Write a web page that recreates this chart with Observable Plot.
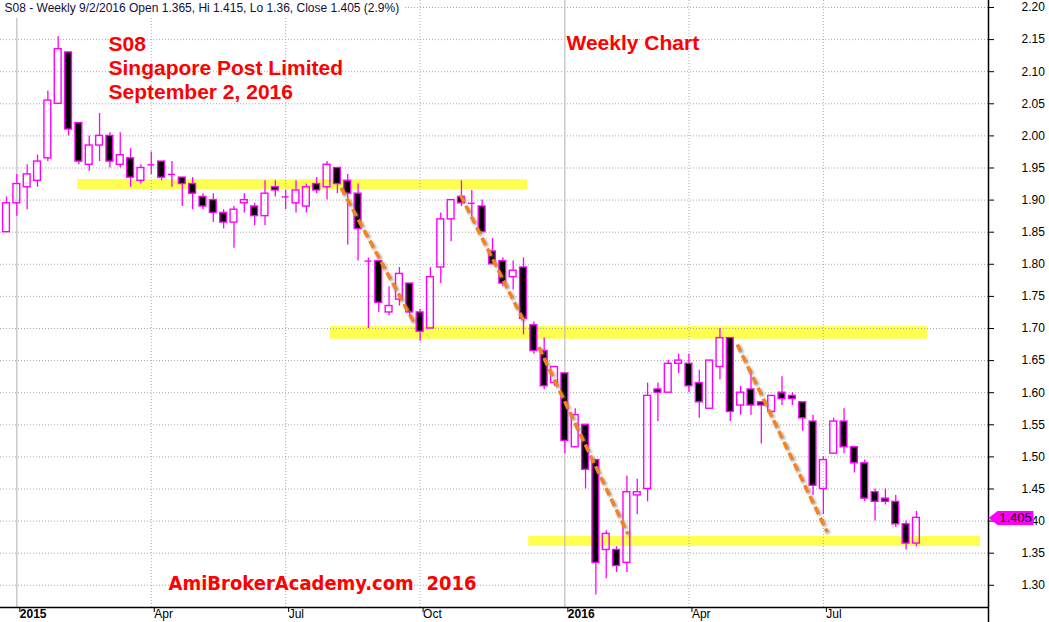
<!DOCTYPE html>
<html>
<head>
<meta charset="utf-8">
<script src="https://cdn.jsdelivr.net/npm/d3@7"></script>
<script src="https://cdn.jsdelivr.net/npm/@observablehq/plot@0.6"></script>
<style>
  html, body { margin: 0; padding: 0; background: #fff; }
  #chart { width: 1049px; height: 622px; overflow: hidden; }
</style>
</head>
<body>
<div id="chart"></div>
<script>
// S08 Singapore Post Limited — weekly OHLC, week ending Fridays from 26 Dec 2014
const firstWeek = Date.UTC(2014, 11, 26);

const open = [
  1.85, 1.895, 1.92, 1.93, 1.965, 2.05, 2.13, 2.02, 1.955, 1.985,
  2.00, 1.955, 1.965, 1.93, 1.955, 1.96, 1.94, 1.935, 1.925, 1.905,
  1.90, 1.88, 1.865, 1.895, 1.89, 1.875, 1.92, 1.905, 1.895, 1.89,
  1.925, 1.92, 1.95, 1.93, 1.91, 1.805, 1.805, 1.725, 1.745, 1.77,
  1.725, 1.70, 1.795, 1.87, 1.905, 1.895, 1.89, 1.82, 1.805, 1.78,
  1.795, 1.705, 1.665, 1.615, 1.63, 1.515, 1.55, 1.495, 1.355, 1.355,
  1.335, 1.44, 1.45, 1.605, 1.60, 1.645, 1.645, 1.615, 1.575, 1.64,
  1.685, 1.58, 1.605, 1.585, 1.57, 1.60, 1.595, 1.585, 1.555, 1.45,
  1.505, 1.555, 1.515, 1.49, 1.445, 1.435, 1.43, 1.395, 1.365
];
const high = [
  1.905, 1.94, 1.955, 1.97, 2.07, 2.155, 2.13, 2.02, 2.00, 2.035,
  2.005, 2.005, 1.98, 1.955, 1.975, 1.96, 1.96, 1.935, 1.935, 1.91,
  1.91, 1.885, 1.89, 1.91, 1.895, 1.93, 1.93, 1.915, 1.93, 1.925,
  1.935, 1.96, 1.95, 1.94, 1.925, 1.81, 1.805, 1.765, 1.795, 1.77,
  1.73, 1.795, 1.88, 1.90, 1.93, 1.915, 1.90, 1.84, 1.81, 1.805,
  1.81, 1.71, 1.685, 1.64, 1.63, 1.575, 1.55, 1.495, 1.385, 1.36,
  1.47, 1.465, 1.615, 1.615, 1.65, 1.66, 1.66, 1.635, 1.65, 1.70,
  1.685, 1.61, 1.635, 1.585, 1.595, 1.625, 1.60, 1.585, 1.565, 1.50,
  1.56, 1.575, 1.515, 1.495, 1.45, 1.45, 1.44, 1.40, 1.415
];
const low = [
  1.85, 1.875, 1.885, 1.92, 1.96, 2.05, 2.00, 1.955, 1.945, 1.96,
  1.95, 1.95, 1.92, 1.925, 1.94, 1.93, 1.92, 1.89, 1.885, 1.885,
  1.865, 1.855, 1.825, 1.88, 1.86, 1.86, 1.905, 1.885, 1.88, 1.88,
  1.91, 1.90, 1.91, 1.83, 1.805, 1.70, 1.725, 1.72, 1.735, 1.72,
  1.68, 1.70, 1.77, 1.835, 1.89, 1.87, 1.85, 1.80, 1.765, 1.76,
  1.69, 1.66, 1.605, 1.61, 1.505, 1.515, 1.45, 1.285, 1.31, 1.32,
  1.32, 1.41, 1.43, 1.555, 1.60, 1.63, 1.60, 1.56, 1.575, 1.62,
  1.555, 1.565, 1.565, 1.52, 1.57, 1.58, 1.58, 1.54, 1.44, 1.41,
  1.505, 1.505, 1.475, 1.43, 1.40, 1.425, 1.39, 1.355, 1.36
];
const close = [
  1.895, 1.925, 1.94, 1.96, 2.055, 2.135, 2.01, 1.96, 1.985, 2.00,
  1.96, 1.97, 1.935, 1.95, 1.955, 1.935, 1.94, 1.925, 1.91, 1.89,
  1.88, 1.865, 1.885, 1.90, 1.875, 1.91, 1.915, 1.905, 1.915, 1.92,
  1.915, 1.955, 1.925, 1.91, 1.855, 1.805, 1.74, 1.735, 1.785, 1.725,
  1.695, 1.78, 1.87, 1.90, 1.895, 1.895, 1.85, 1.80, 1.77, 1.79,
  1.715, 1.665, 1.61, 1.64, 1.525, 1.565, 1.48, 1.335, 1.38, 1.33,
  1.445, 1.445, 1.595, 1.60, 1.645, 1.65, 1.61, 1.585, 1.65, 1.685,
  1.57, 1.60, 1.58, 1.58, 1.595, 1.59, 1.59, 1.56, 1.455, 1.495,
  1.555, 1.515, 1.49, 1.435, 1.43, 1.43, 1.395, 1.365, 1.405
];

// price axis and time axis ticks
const priceTicks = [1.30, 1.35, 1.40, 1.45, 1.50, 1.55, 1.60, 1.65, 1.70, 1.75,
                    1.80, 1.85, 1.90, 1.95, 2.00, 2.05, 2.10, 2.15, 2.20];
const timeTickDates = ["2015-01-02", "2015-04-03", "2015-07-03", "2015-10-02",
                       "2016-01-08", "2016-04-01", "2016-07-01"];
const timeTickLabels = ["2015", "Apr", "Jul", "Oct", "2016", "Apr", "Jul"];

// support / resistance zones (bar number span, price span)
const zoneFromBar = [6.87, 31.3, 50.5];
const zoneToBar = [50.4, 89.1, 94.2];
const zoneLow = [1.9165, 1.6833, 1.3604];
const zoneHigh = [1.932, 1.703, 1.376];

// down-trend lines (bar number, price)
const trendFromBar = [32.37, 43.9, 51.48, 70.67];
const trendFromPrice = [1.919, 1.908, 1.671, 1.675];
const trendToBar = [39.39, 50.0, 60.09, 79.37];
const trendToPrice = [1.71, 1.7125, 1.38, 1.383];

const header = "S08 - Weekly 9/2/2016 Open 1.365, Hi 1.415, Lo 1.36, Close 1.405 (2.9%)";
const titleLines = ["S08", "Singapore Post Limited", "September 2, 2016"];
const chartKind = "Weekly Chart";
const watermark = "AmiBrokerAcademy.com  2016";

// ---- derived tables ----
const WEEK = 7 * 864e5;
const barDate = (i) => new Date(firstWeek + i * WEEK);
const xStart = barDate(-0.58), xEnd = barDate(94.97);
const yDomain = [1.2654, 2.2109];
const half = 0.33; // candle body half-width, in bars
const magenta = "#ff00ff";

const bars = open.map((o, i) => ({
  i, date: barDate(i), o, h: high[i], l: low[i], c: close[i],
  top: Math.max(o, close[i]), bot: Math.min(o, close[i])
}));
const upBars = bars.filter(d => d.c > d.o);
const downBars = bars.filter(d => d.c < d.o);
const dojiBars = bars.filter(d => d.c === d.o);

const zones = zoneFromBar.map((b, k) => ({
  x1: barDate(b), x2: barDate(zoneToBar[k]), y1: zoneLow[k], y2: zoneHigh[k]
}));
const trends = trendFromBar.map((b, k) => ({
  x1: barDate(b), y1: trendFromPrice[k], x2: barDate(trendToBar[k]), y2: trendToPrice[k]
}));
const ticks = timeTickDates.map((s, k) => ({ date: new Date(s), label: timeTickLabels[k] }));
const labelOf = new Map(ticks.map(t => [+t.date, t.label]));
const yearTicks = ticks.filter(t => /^\d{4}$/.test(t.label));
const monthTicks = ticks.filter(t => !/^\d{4}$/.test(t.label));
const last = bars[bars.length - 1];

const tagSymbol = {
  draw(ctx) {
    ctx.moveTo(0, 0);
    ctx.lineTo(9, -7);
    ctx.lineTo(45, -7);
    ctx.lineTo(45, 7);
    ctx.lineTo(9, 7);
    ctx.closePath();
  }
};

const chart = Plot.plot({
  width: 1049,
  height: 622,
  marginLeft: 0,
  marginRight: 61,
  marginTop: 0,
  marginBottom: 15,
  x: { type: "utc", domain: [xStart, xEnd], axis: null },
  y: { domain: yDomain, axis: null },
  style: { fontFamily: "'Liberation Sans', Arial, sans-serif", fontSize: "12px", background: "#fff", color: "#000" },
  marks: [
    // yellow zones
    Plot.rect(zones, { x1: "x1", x2: "x2", y1: "y1", y2: "y2", fill: "#ffff4f" }),
    // grid
    Plot.ruleY(priceTicks, { stroke: "#a9a9a9", strokeDasharray: "1,2" }),
    Plot.ruleX(monthTicks, { x: "date", stroke: "#a9a9a9", strokeDasharray: "1,2" }),
    Plot.ruleX(yearTicks, { x: "date", stroke: "#bdbdbd", strokeWidth: 1.2 }),
    // wicks
    Plot.ruleX(bars.filter(d => d.h > d.top), { x: "date", y1: "h", y2: "top", stroke: magenta, strokeWidth: 1.3 }),
    Plot.ruleX(bars.filter(d => d.l < d.bot), { x: "date", y1: "bot", y2: "l", stroke: magenta, strokeWidth: 1.3 }),
    // bodies
    Plot.rect(downBars, {
      x1: d => barDate(d.i - half), x2: d => barDate(d.i + half), y1: "o", y2: "c",
      fill: "#000", stroke: magenta, strokeWidth: 1.4
    }),
    Plot.rect(upBars, {
      x1: d => barDate(d.i - half), x2: d => barDate(d.i + half), y1: "o", y2: "c",
      fill: "none", stroke: magenta, strokeWidth: 1.4
    }),
    Plot.ruleY(dojiBars, {
      x1: d => barDate(d.i - half), x2: d => barDate(d.i + half), y: "o",
      stroke: magenta, strokeWidth: 1.4
    }),
    // trend lines with soft shadow
    Plot.link(trends, {
      x1: "x1", y1: "y1", x2: "x2", y2: "y2", stroke: "#777", strokeOpacity: 0.55,
      strokeWidth: 4.5, strokeDasharray: "8,4", dx: 1.5, dy: 1.5
    }),
    Plot.link(trends, {
      x1: "x1", y1: "y1", x2: "x2", y2: "y2", stroke: "#f5821f",
      strokeWidth: 3.5, strokeDasharray: "8,4"
    }),
    // axes
    Plot.ruleY([yDomain[0]], { stroke: "#000", strokeWidth: 1.5 }),
    Plot.ruleX([xEnd], { stroke: "#000", strokeWidth: 1.5, insetBottom: -15 }),
    Plot.axisY(priceTicks, {
      anchor: "right", tickSize: 5, tickPadding: 28, fontSize: 12,
      tickFormat: d3.format(".2f")
    }),
    Plot.axisX(ticks.map(t => t.date), {
      anchor: "bottom", tickSize: 5, tickPadding: -3, textAnchor: "start", dx: 3,
      fontSize: 12, tickFormat: d => labelOf.get(+d)
    }),
    // last close tag
    Plot.dot([last], { x: () => xEnd, y: "c", symbol: tagSymbol, fill: magenta, stroke: "none", r: 1 }),
    Plot.text([last], {
      x: () => xEnd, y: "c", text: d => d.c.toFixed(3), dx: 27, fontSize: 13, fill: "#000"
    }),
    // annotations
    Plot.text([header], {
      frameAnchor: "top-left", dx: 4, dy: 3, lineAnchor: "top", textAnchor: "start",
      fontSize: 12, fill: "#10103a", stroke: "#fff", strokeWidth: 12
    }),
    Plot.text([titleLines.join("\n")], {
      frameAnchor: "top-left", dx: 108, dy: 33, lineAnchor: "top", textAnchor: "start",
      fontSize: 21, fontWeight: "bold", lineHeight: 1.15, fill: "#ff0000"
    }),
    Plot.text([chartKind], {
      frameAnchor: "top-left", dx: 566, dy: 35, lineAnchor: "top", textAnchor: "start",
      fontSize: 21, fontWeight: "bold", fill: "#ff0000"
    }),
    Plot.text([watermark], {
      frameAnchor: "top-left", dx: 168, dy: 575, lineAnchor: "top", textAnchor: "start",
      fontSize: 20, fontWeight: "bold", fill: "#ff0000",
      fontFamily: "'DejaVu Sans Condensed', 'DejaVu Sans', sans-serif"
    })
  ]
});

const svg = d3.select(chart);
// bold year labels on the time axis
svg.selectAll("text").filter(function () { return /^\d{4}$/.test(this.textContent); })
  .attr("font-weight", "bold");
// blur the trend-line shadow
svg.selectAll('g[aria-label="link"]').filter((d, i) => i === 0).style("filter", "blur(1px)");

document.getElementById("chart").appendChild(chart);
</script>
</body>
</html>
